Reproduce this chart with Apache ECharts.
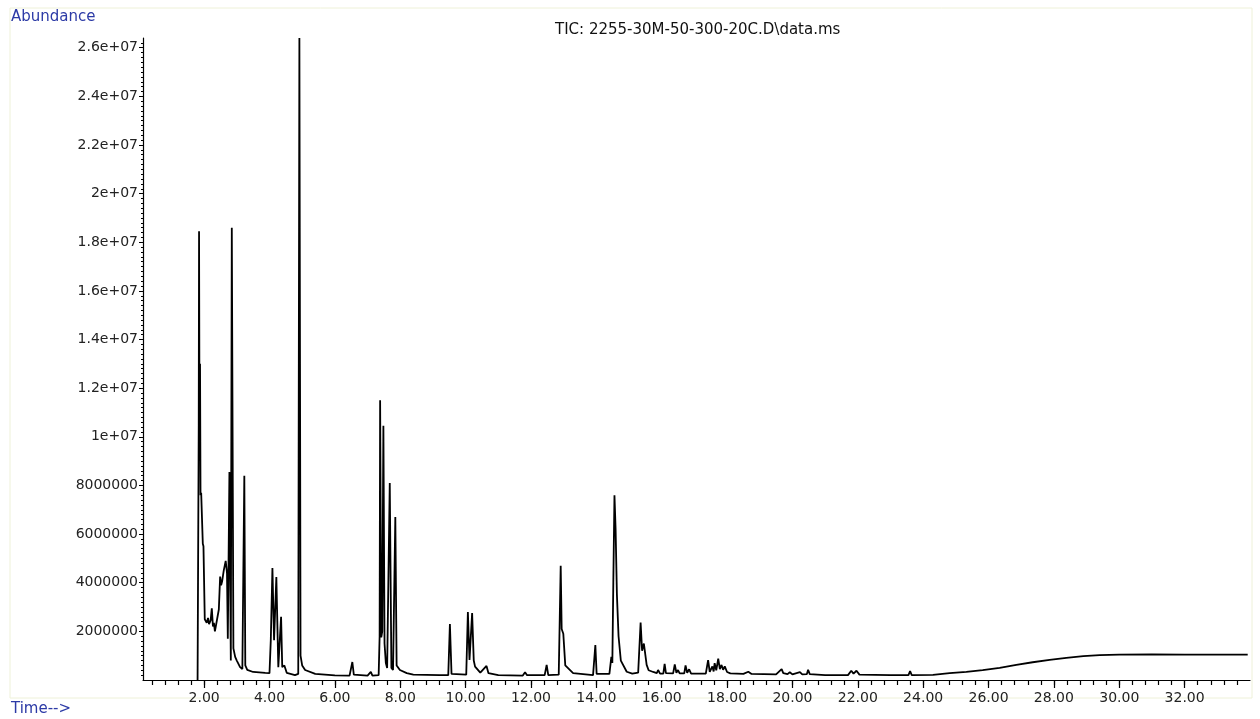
<!DOCTYPE html>
<html>
<head>
<meta charset="utf-8">
<script src="https://cdn.jsdelivr.net/npm/echarts@6/dist/echarts.min.js"></script>
<style>
html,body{margin:0;padding:0;background:#fff;}
#chart{width:1260px;height:719px;}
</style>
</head>
<body>
<div id="chart"></div>
<script>
// Retention time (min)
const times = [
  1.80, 1.82, 1.835, 1.845, 1.86, 1.875, 1.89, 1.91, 1.94, 1.96, 1.98, 2.02,
  2.08, 2.12, 2.15, 2.20, 2.235, 2.27, 2.30, 2.33, 2.39, 2.45, 2.49, 2.52, 2.55, 2.60, 2.66, 2.70,
  2.725, 2.774, 2.817, 2.847, 2.896, 2.95, 3.00, 3.10, 3.17, 3.20, 3.23, 3.26,
  3.32, 3.50, 3.87, 4.00, 4.04, 4.09, 4.14, 4.21, 4.27, 4.355, 4.39, 4.455,
  4.53, 4.78, 4.88, 4.915, 4.95, 5.00, 5.09, 5.40, 6.00,
  6.45, 6.535, 6.58, 7.00, 7.10, 7.15,
  7.34, 7.37, 7.385, 7.42, 7.45, 7.485, 7.52, 7.56, 7.60, 7.68, 7.73, 7.78,
  7.85, 7.89, 7.99, 8.20, 8.40, 9.20,
  9.47, 9.52, 9.57, 10.02, 10.07, 10.12, 10.20, 10.25, 10.29, 10.45, 10.64, 10.70, 11.00,
  11.75, 11.82, 11.88, 12.42, 12.48, 12.53,
  12.85, 12.91, 12.94, 12.99, 13.05, 13.09, 13.29, 13.90, 13.93, 13.97, 14.01,
  14.40, 14.46, 14.49, 14.52, 14.555, 14.59, 14.63, 14.68, 14.75, 14.93, 15.10,
  15.28, 15.355, 15.40, 15.455, 15.54, 15.60, 15.74,
  15.85, 15.89, 15.95, 16.05, 16.09, 16.13, 16.35, 16.40, 16.45, 16.50, 16.55,
  16.69, 16.73, 16.78, 16.84, 16.90, 17.35,
  17.38, 17.42, 17.47, 17.52, 17.55, 17.59, 17.62, 17.67, 17.73, 17.78, 17.83,
  17.88, 17.93, 18.00, 18.10,
  18.50, 18.65, 18.75, 19.50, 19.67, 19.72, 19.77, 19.85, 19.92, 20.00, 20.23,
  20.30, 20.44, 20.48, 20.53, 21.00, 21.70, 21.80, 21.87, 21.96, 22.05, 23.00,
  23.55, 23.60, 23.65, 24.30, 24.81, 25.32, 25.82, 26.34, 26.85, 27.35, 27.87,
  28.38, 28.90, 29.40, 30.00, 31.00, 32.00, 33.00, 33.93
];
// Total ion current abundance
const abundance = [
  0, 0, 10400000, 18450000, 9800000, 13000000, 7600000, 7700000, 7700000, 5600000, 5500000, 2500000,
  2350000, 2550000, 2300000, 2450000, 2950000, 2200000, 2350000, 2000000, 2050000, 2900000, 4250000, 3900000, 4050000, 4500000, 4900000, 4400000,
  1700000, 8550000, 800000, 18600000, 1300000, 950000, 800000, 530000, 450000, 500000, 8400000, 600000,
  420000, 330000, 290000, 280000, 1640000, 4600000, 1640000, 4230000, 530000, 2600000, 530000, 600000,
  290000, 200000, 250000, 26400000, 1000000, 600000, 410000, 250000, 190000,
  180000, 740000, 220000, 180000, 330000, 180000,
  200000, 1800000, 11500000, 1750000, 2000000, 10450000, 1500000, 700000, 490000, 8100000, 500000, 410000,
  6700000, 600000, 410000, 280000, 220000, 200000,
  200000, 2300000, 250000, 220000, 2800000, 820000, 2750000, 800000, 550000, 300000, 580000, 280000, 200000,
  180000, 320000, 200000, 200000, 620000, 200000,
  220000, 4700000, 2100000, 1900000, 600000, 550000, 280000, 200000, 200000, 1440000, 250000,
  250000, 950000, 700000, 4000000, 7600000, 6200000, 3500000, 1800000, 800000, 340000, 260000,
  300000, 2360000, 1200000, 1500000, 620000, 400000, 330000,
  280000, 410000, 260000, 260000, 660000, 280000, 270000, 640000, 300000, 410000, 270000,
  270000, 600000, 300000, 440000, 260000, 260000,
  280000, 820000, 330000, 300000, 560000, 350000, 690000, 400000, 880000, 450000, 620000,
  420000, 560000, 330000, 270000,
  250000, 340000, 250000, 230000, 450000, 280000, 330000, 240000, 320000, 230000, 320000,
  230000, 240000, 420000, 240000, 200000, 200000, 380000, 260000, 380000, 220000, 200000,
  200000, 370000, 200000, 210000, 280000, 330000, 410000, 500000, 620000, 730000, 830000,
  910000, 980000, 1020000, 1040000, 1050000, 1040000, 1040000, 1040000
];
const xLabelTicks = [2, 4, 6, 8, 10, 12, 14, 16, 18, 20, 22, 24, 26, 28, 30, 32];
const xMinorTicks = [0.4, 0.8, 1.2, 1.6, 2.0, 2.4, 2.8, 3.2, 3.6, 4.0, 4.4, 4.8, 5.2, 5.6, 6.0,
  6.4, 6.8, 7.2, 7.6, 8.0, 8.4, 8.8, 9.2, 9.6, 10.0, 10.4, 10.8, 11.2, 11.6, 12.0, 12.4, 12.8,
  13.2, 13.6, 14.0, 14.4, 14.8, 15.2, 15.6, 16.0, 16.4, 16.8, 17.2, 17.6, 18.0, 18.4, 18.8, 19.2,
  19.6, 20.0, 20.4, 20.8, 21.2, 21.6, 22.0, 22.4, 22.8, 23.2, 23.6, 24.0, 24.4, 24.8, 25.2, 25.6,
  26.0, 26.4, 26.8, 27.2, 27.6, 28.0, 28.4, 28.8, 29.2, 29.6, 30.0, 30.4, 30.8, 31.2, 31.6, 32.0,
  32.4, 32.8, 33.2, 33.6];
const yTicks = [2000000, 4000000, 6000000, 8000000, 10000000, 12000000, 14000000,
  16000000, 18000000, 20000000, 22000000, 24000000, 26000000];

const titleText = 'TIC: 2255-30M-50-300-20C.D\\data.ms';

const data = times.map((t, i) => [t, abundance[i]]);

const chart = echarts.init(document.getElementById('chart'), null, {renderer: 'canvas'});
const font = 'DejaVu Sans, Liberation Sans, Arial, sans-serif';
chart.setOption({
  animation: false,
  backgroundColor: '#ffffff',
  graphic: [
    {type: 'rect', shape: {x: 10, y: 8, width: 1242, height: 690}, style: {fill: 'none', stroke: '#eef1d8', lineWidth: 1}, z: -1},
    {type: 'text', left: 11, top: 10, style: {text: 'Abundance', fill: '#2c3aa6', font: '15px ' + font}},
    {type: 'text', left: 11, top: 702, style: {text: 'Time-->', fill: '#2c3aa6', font: '15px ' + font}}
  ],
  title: {
    text: titleText, left: 550, top: 18,
    textStyle: {fontSize: 15, fontWeight: 'normal', color: '#111', fontFamily: font}
  },
  grid: {left: 143, right: 10, top: 38, bottom: 39, containLabel: false},
  xAxis: [
    {
      type: 'value', min: 0.13, max: 34.0, position: 'bottom',
      axisLine: {show: true, onZero: false, lineStyle: {color: '#000', width: 1.2}},
      axisTick: {show: true, length: 8, customValues: xLabelTicks, lineStyle: {color: '#000', width: 1.2}},
      axisLabel: {show: true, customValues: xLabelTicks, margin: 11, color: '#222', fontSize: 14, fontFamily: font,
        formatter: v => v.toFixed(2)},
      splitLine: {show: false}
    },
    {
      type: 'value', min: 0.13, max: 34.0, position: 'bottom', offset: 0,
      axisLine: {show: false, onZero: false},
      axisTick: {show: true, length: 5, customValues: xMinorTicks, lineStyle: {color: '#000', width: 1.2}},
      axisLabel: {show: false},
      splitLine: {show: false}
    }
  ],
  yAxis: {
    type: 'value', min: 0, max: 26400000, interval: 2000000,
    axisLine: {show: true, onZero: false, lineStyle: {color: '#000', width: 1.2}},
    axisTick: {show: true, length: 4, customValues: yTicks, lineStyle: {color: '#000'}},
    minorTick: {show: true, splitNumber: 10, length: 2, lineStyle: {color: '#000'}},
    axisLabel: {show: true, customValues: yTicks, margin: 5, color: '#222', fontSize: 14, fontFamily: font,
      formatter: v => v >= 10000000 ? (v / 10000000) + 'e+07' : String(v)},
    splitLine: {show: false}
  },
  series: [{
    type: 'line', data: data, xAxisIndex: 0, showSymbol: false, symbol: 'none',
    sampling: null, smooth: false,
    lineStyle: {color: '#000', width: 1.8}
  }]
});
</script>
</body>
</html>
